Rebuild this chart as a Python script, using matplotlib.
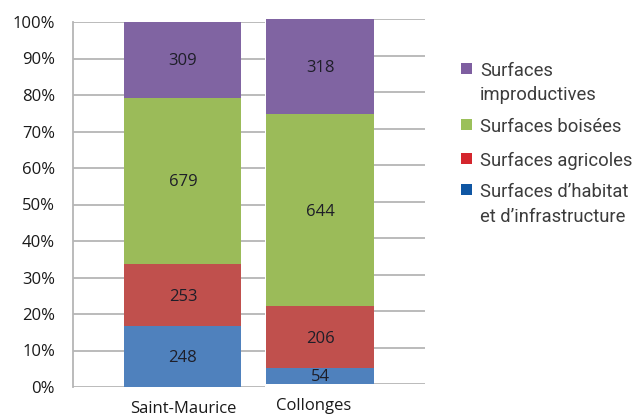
import matplotlib
matplotlib.use("Agg")
import matplotlib.pyplot as plt
from matplotlib.patches import Rectangle
from matplotlib.transforms import ScaledTranslation

# ---- data ----
categories = ["Saint-Maurice", "Collonges"]
habitat = [248, 54]
agricoles = [253, 206]
boisees = [679, 644]
improductives = [309, 318]
series_labels = ["Surfaces d\u2019habitat\net d\u2019infrastructure", "Surfaces agricoles",
                 "Surfaces boisées", "Surfaces\nimproductives"]
yticks = list(range(0, 101, 10))

series = [habitat, agricoles, boisees, improductives]
bar_colors = ["#4f81bd", "#c0504d", "#9bbb59", "#8064a2"]
legend_colors = ["#0f56a3", "#d4262d", "#9bc05a", "#7e5ea0"]
totals = [sum(s[i] for s in series) for i in range(len(categories))]

W, H = 642, 417
fig = plt.figure(figsize=(W / 100, H / 100), dpi=100)


def rect(x0, x1, ytop, ybot):
    return [x0 / W, 1 - ybot / H, (x1 - x0) / W, (ybot - ytop) / H]


ax1 = fig.add_axes(rect(73, 265, 22, 387))
ax2 = fig.add_axes(rect(266, 425, 19, 384))
axes = [ax1, ax2]
xlims = [(-0.564, 0.421), (0.70, 1.583)]

font = "Open Sans"
grid_c = "#b5b5b5"
fs = 12
down = ScaledTranslation(0, -1.5 / 100, fig.dpi_scale_trans)

for i, ax in enumerate(axes):
    bottom = 0
    for vals, col in zip(series, bar_colors):
        pct = vals[i] / totals[i] * 100
        ax.bar(i, pct, width=0.6, bottom=bottom, color=col, zorder=2)
        ax.text(i, bottom + pct / 2, str(vals[i]), ha="center", va="center",
                family=font, fontsize=fs, color="#1e1e28", zorder=3,
                transform=ax.transData + down)
        bottom += pct
    ax.set_xlim(*xlims[i])
    ax.set_ylim(0, 100)
    ax.set_yticks(yticks)
    ax.yaxis.grid(True, color=grid_c, lw=1.3, zorder=0)
    ax.set_axisbelow(True)
    for s in ax.spines.values():
        s.set_visible(False)
    ax.tick_params(length=0)
    ax.set_xticks([i])
    ax.set_xticklabels([categories[i]], family=font, fontsize=fs, color="#1a1a1a")
    ax.tick_params(axis="x", pad=10)
    ax.patch.set_alpha(0)

# Collonges label sits slightly left of its bar in the reference
for lbl in ax2.get_xticklabels():
    lbl.set_transform(lbl.get_transform() + ScaledTranslation(-6 / 100, 0, fig.dpi_scale_trans))

ax1.spines["left"].set_visible(True)
ax1.spines["left"].set_color(grid_c)
ax1.spines["left"].set_linewidth(1.3)
ax1.set_yticklabels([f"{t}%" for t in yticks], family=font, fontsize=fs, color="#1a1a1a")
ax1.tick_params(axis="y", pad=13)
ax2.set_yticklabels([])

# ---- legend (top to bottom: reversed stacking order) ----
leg_square_top = [63, 119, 153, 184]
line_gap = 24.5
for k, (lab, col) in enumerate(zip(series_labels[::-1], legend_colors[::-1])):
    top = leg_square_top[k]
    fig.patches.append(Rectangle((461 / W, 1 - (top + 11) / H), 11 / W, 11 / H,
                                 transform=fig.transFigure, facecolor=col,
                                 edgecolor="none", figure=fig))
    for j, line in enumerate(lab.split("\n")):
        base = top + 13 + j * line_gap
        fig.text(480 / W, 1 - base / H, line, ha="left", va="baseline",
                 family="Roboto", fontsize=13.2, color="#3c3c3c")

fig.savefig("out.png", dpi=100)
